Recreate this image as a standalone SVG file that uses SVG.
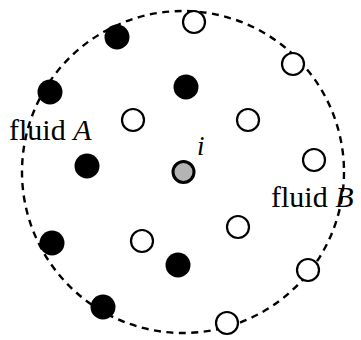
<svg xmlns="http://www.w3.org/2000/svg" width="361" height="340" viewBox="0 0 361 340">
<style>
.bound{fill:none;stroke:#000;stroke-width:2.4;stroke-dasharray:7 5.5}
.a{fill:#000}
.b{fill:#fff;stroke:#000;stroke-width:2.2}
.g{fill:#b4b4b4;stroke:#000;stroke-width:3}
text{font-family:"Liberation Serif","Times New Roman",serif;fill:#000}
</style>
<rect width="361" height="340" fill="#fff"/>
<g id="boundary"><circle class="bound" cx="183" cy="172" r="161"/></g>
<g id="fluidA">
<circle class="a" cx="117" cy="37" r="12.5"/>
<circle class="a" cx="50" cy="92" r="12.5"/>
<circle class="a" cx="186" cy="87" r="12.5"/>
<circle class="a" cx="87" cy="166" r="12.5"/>
<circle class="a" cx="52" cy="243" r="12.5"/>
<circle class="a" cx="103" cy="307" r="12.5"/>
<circle class="a" cx="178" cy="265" r="12.5"/>
</g>
<g id="fluidB">
<circle class="b" cx="194" cy="22" r="11"/>
<circle class="b" cx="293" cy="64" r="11"/>
<circle class="b" cx="248" cy="120" r="11"/>
<circle class="b" cx="314" cy="160" r="11"/>
<circle class="b" cx="133" cy="120" r="11"/>
<circle class="b" cx="142" cy="241" r="11"/>
<circle class="b" cx="238" cy="227" r="11"/>
<circle class="b" cx="308" cy="270" r="11"/>
<circle class="b" cx="227" cy="323" r="11"/>
</g>
<g id="particle-i">
<circle class="g" cx="183.5" cy="172" r="10.5"/>
<text x="197" y="155" font-size="27" font-style="italic">i</text>
</g>
<g id="labels">
<text x="9" y="140" font-size="30">fluid <tspan font-style="italic">A</tspan></text>
<text x="271" y="207" font-size="30">fluid <tspan font-style="italic">B</tspan></text>
</g>
</svg>
